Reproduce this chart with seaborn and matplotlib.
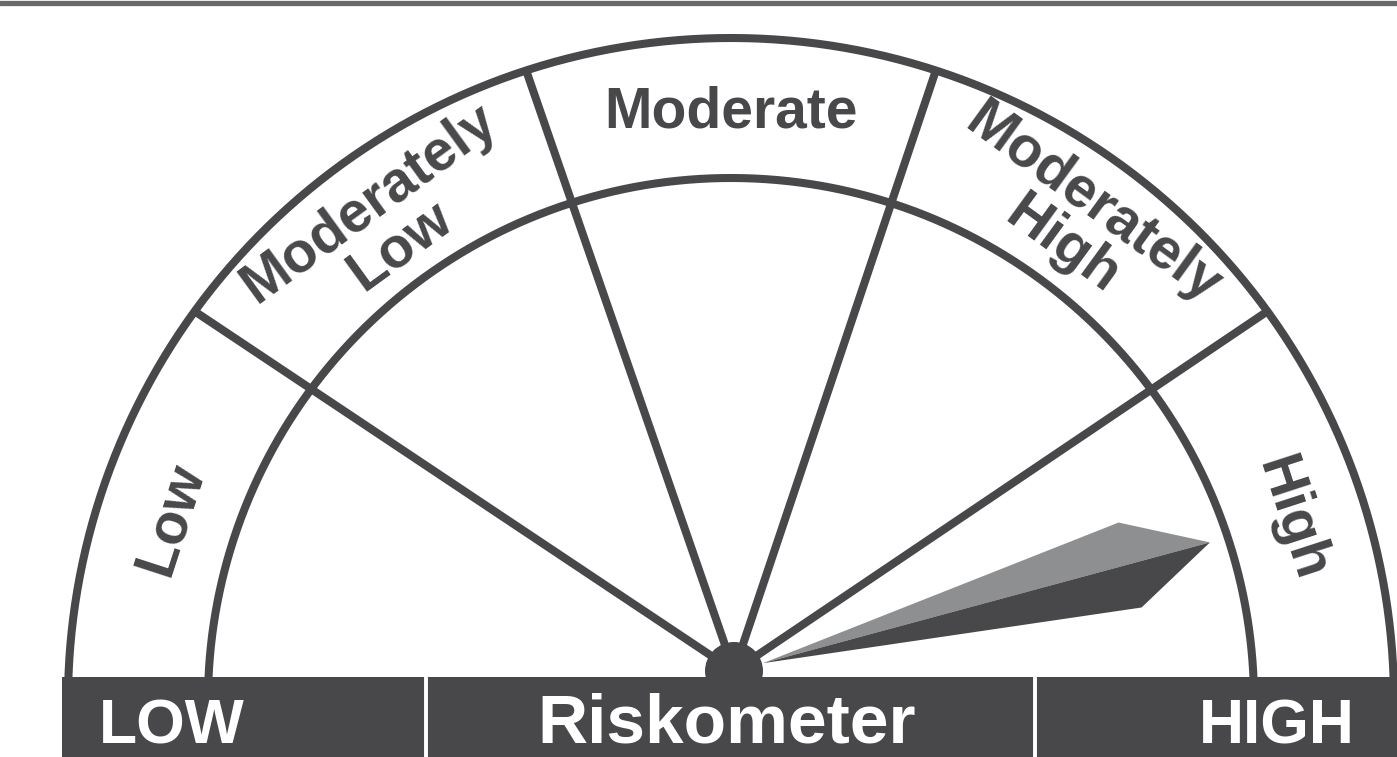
import numpy as np
import pandas as pd
import matplotlib
matplotlib.use("Agg")
import matplotlib.pyplot as plt
import seaborn as sns
from matplotlib.patches import Polygon, Circle, Rectangle

# ---- data ----
risk_levels = ["Low", "Moderately\nLow", "Moderate", "Moderately\nHigh", "High"]
bar_labels = ["LOW", "Riskometer", "HIGH"]
needle_value = 4.58  # position on the 0..5 scale (one unit per risk band)

# ---- style ----
sns.set_theme(style="white")
plt.rcParams["font.family"] = ["Liberation Sans", "DejaVu Sans"]

W, H = 1397, 757
fig = plt.figure(figsize=(W / 100, H / 100), dpi=100)
fig.patch.set_facecolor("white")
ax = fig.add_axes([0, 0, 1, 1])
ax.set_facecolor("white")

DARK = "#48484b"
LIGHT = "#8e8f91"
cx, cy = 731, 56          # centre of the arcs
r_in, r_out = 523, 663
hub_xy, hub_r = (734, 86), 29
bar_left, bar_top = 62, 80
lw = 5.8

n = len(risk_levels)
span = 180.0 / n


def angle(v):
    return np.deg2rad(180.0 - v * span)


# arcs
t = np.linspace(np.deg2rad(-10), np.deg2rad(190), 500)
for r in (r_in, r_out):
    arc = pd.DataFrame({"x": cx + r * np.cos(t), "y": cy + r * np.sin(t)})
    sns.lineplot(data=arc, x="x", y="y", sort=False, estimator=None,
                 color=DARK, lw=lw, ax=ax, zorder=2)

# spokes between bands
for k in range(1, n):
    th = angle(k)
    ox, oy = cx + r_out * np.cos(th), cy + r_out * np.sin(th)
    ax.plot([hub_xy[0], ox], [hub_xy[1], oy], color=DARK, lw=lw,
            solid_capstyle="butt", zorder=2)

# band labels
r_lab = 589
for i, lab in enumerate(risk_levels):
    th = angle(i + 0.5)
    x, y = cx + r_lab * np.cos(th), cy + r_lab * np.sin(th)
    ax.text(x, y, lab, rotation=np.rad2deg(th) - 90, rotation_mode="anchor",
            ha="center", va="center", multialignment="center",
            fontsize=41, fontweight="bold", color=DARK, linespacing=0.95,
            zorder=3)

# needle
a = angle(needle_value)
u = np.array([np.cos(a), np.sin(a)])
nrm = np.array([-np.sin(a), np.cos(a)])
P = np.array(hub_xy, dtype=float)
base = P + 30 * u
tip = P + 493 * u
top_c = P + 410 * u + 43 * nrm
bot_c = P + 410 * u - 45 * nrm
ax.add_patch(Polygon([base, top_c, tip], closed=True, facecolor=LIGHT,
                     edgecolor="none", zorder=4))
ax.add_patch(Polygon([base, tip, bot_c], closed=True, facecolor=DARK,
                     edgecolor="none", zorder=4))

# hub
ax.add_patch(Circle(hub_xy, hub_r, facecolor=DARK, edgecolor="none", zorder=5))

# bottom bar
ax.add_patch(Rectangle((bar_left, 0), W - bar_left, bar_top, facecolor=DARK,
                       edgecolor="none", zorder=6))
for sx in (426, 1035):
    ax.plot([sx, sx], [0, bar_top], color="white", lw=2.8, zorder=7)

bar_x = [172, 727, 1277]
bar_fs = [45, 50, 45]
for x, lab, fs in zip(bar_x, bar_labels, bar_fs):
    ax.text(x, 0.5, lab, ha="center", va="bottom", fontsize=fs,
            fontweight="bold", color="white", zorder=8)

# top rule
ax.plot([0, W], [H - 3, H - 3], color="#6a6a6c", lw=3.8, zorder=1)

ax.set_xlim(0, W)
ax.set_ylim(0, H)
ax.axis("off")
fig.savefig("out.png", dpi=100, facecolor="white")
